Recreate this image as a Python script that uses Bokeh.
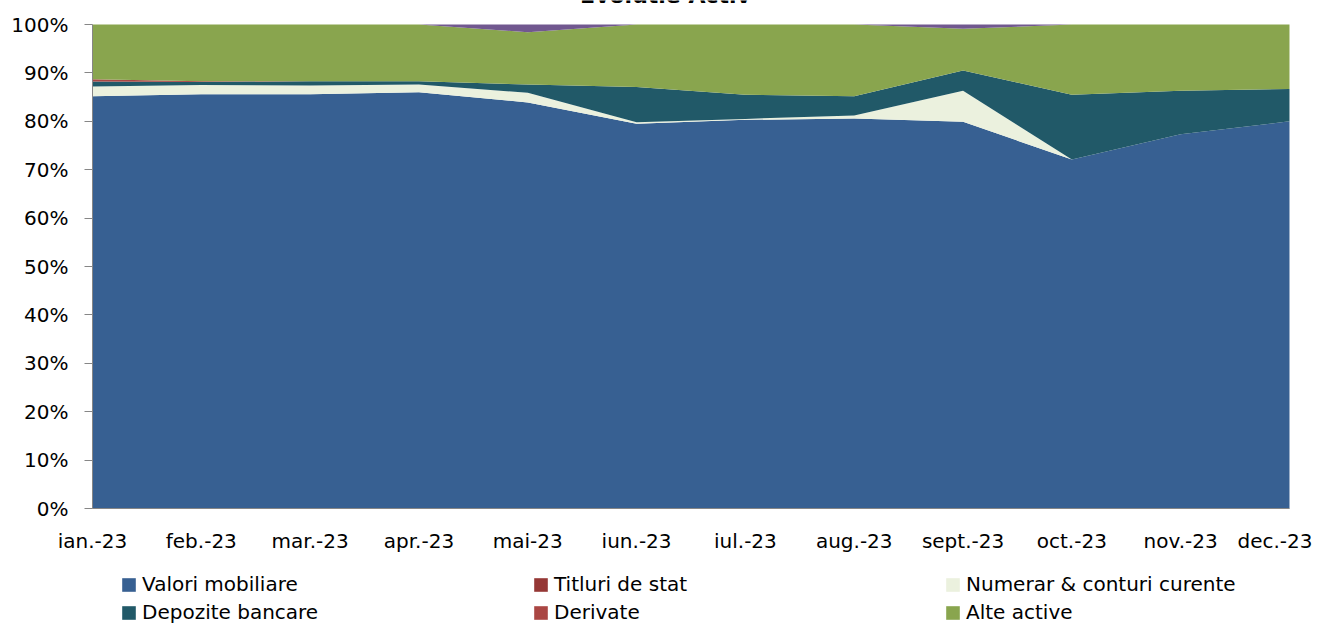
from bokeh.plotting import figure
from bokeh.models import (ColumnDataSource, Range1d, FixedTicker, PrintfTickFormatter,
                          Legend, LegendItem, Label)
from bokeh.embed import file_html
from bokeh.resources import INLINE

# ---------------- data (percent of total assets) ----------------
months = ["ian.-23", "feb.-23", "mar.-23", "apr.-23", "mai-23", "iun.-23",
          "iul.-23", "aug.-23", "sept.-23", "oct.-23", "nov.-23", "dec.-23"]
valori_mobiliare = [85.2, 85.6, 85.6, 86.0, 83.9, 79.5, 80.3, 80.6, 79.9, 72.1, 77.3, 80.0]
titluri_de_stat = [0.0, 0.0, 0.0, 0.0, 0.0, 0.0, 0.0, 0.0, 0.0, 0.0, 0.0, 0.0]
numerar_conturi = [2.0, 1.9, 1.8, 1.6, 2.0, 0.3, 0.2, 0.6, 6.4, 0.0, 0.0, 0.0]
depozite_bancare = [1.0, 0.6, 0.9, 0.7, 1.7, 7.3, 5.0, 4.0, 4.2, 13.4, 9.0, 6.7]
derivate = [0.5, 0.2, 0.0, 0.0, 0.0, 0.0, 0.0, 0.0, 0.0, 0.0, 0.0, 0.0]
alte_active = [11.3, 11.7, 11.7, 11.7, 10.8, 12.9, 14.5, 14.8, 8.6, 14.5, 13.7, 13.3]
altele = [0.0, 0.0, 0.0, 0.0, 1.6, 0.0, 0.0, 0.0, 0.9, 0.0, 0.0, 0.0]

series_keys = ["valori", "titluri", "numerar", "depozite", "derivate", "alte", "altele"]
series_labels = ["Valori mobiliare", "Titluri de stat", "Numerar & conturi curente",
                 "Depozite bancare", "Derivate", "Alte active", None]
series_colors = ["#376092", "#953735", "#EBF1DE", "#215968", "#AA4643", "#89A54E", "#71588F"]
y_ticks = [0, 10, 20, 30, 40, 50, 60, 70, 80, 90, 100]

src = ColumnDataSource(dict(
    x=list(range(len(months))),
    valori=valori_mobiliare, titluri=titluri_de_stat, numerar=numerar_conturi,
    depozite=depozite_bancare, derivate=derivate, alte=alte_active, altele=altele,
))

FONT = "DejaVu Sans"

# The frame spans the whole canvas so that the legend, the end tick labels and
# the (cut-off) title can be drawn inside it; both axes are pinned to 0 and
# limited to the data band.
p = figure(width=1312, height=623, output_backend="svg", toolbar_location=None,
           x_range=Range1d(-0.8454, 11.2114), y_range=Range1d(-23.76, 104.96),
           min_border_left=0, min_border_right=0, min_border_top=0, min_border_bottom=0)
p.outline_line_color = None
p.xgrid.visible = False
p.ygrid.visible = False
p.background_fill_color = "white"

rends = p.varea_stack(stackers=series_keys, x="x", source=src, color=series_colors)

# y axis, pinned at the first month
p.yaxis.fixed_location = 0
p.yaxis.ticker = FixedTicker(ticks=y_ticks)
p.yaxis.bounds = (0, 100)
p.yaxis.formatter = PrintfTickFormatter(format="%d%%")
p.yaxis.axis_line_color = "#868686"
p.yaxis.major_tick_line_color = "#868686"
p.yaxis.major_tick_out = 8
p.yaxis.major_tick_in = 0
p.yaxis.minor_tick_line_color = None
p.yaxis.major_label_standoff = 16
p.yaxis.major_label_text_font = FONT
p.yaxis.major_label_text_font_size = "20px"
p.yaxis.major_label_text_color = "black"

# x axis, pinned at 0 %
p.xaxis.fixed_location = 0
p.xaxis.ticker = FixedTicker(ticks=list(range(len(months))))
p.xaxis.bounds = (0, len(months) - 1)
p.xaxis.major_label_overrides = {i: m for i, m in enumerate(months)}
p.xaxis.axis_line_color = "#868686"
p.xaxis.major_tick_line_color = None
p.xaxis.major_tick_out = 0
p.xaxis.major_tick_in = 0
p.xaxis.minor_tick_line_color = None
p.xaxis.major_label_standoff = 20
p.xaxis.major_label_text_font = FONT
p.xaxis.major_label_text_font_size = "20px"
p.xaxis.major_label_text_color = "black"

# legend (3 columns, two rows, bottom of the chart)
items = [LegendItem(label=lab, renderers=[r]) for lab, r in zip(series_labels, rends) if lab]
legend = Legend(items=items, location=(120, -3), orientation="horizontal", ncols=3,
                glyph_width=17, glyph_height=17, label_standoff=5, label_width=390,
                label_height=28, spacing=0, padding=0, margin=0,
                border_line_color=None, background_fill_alpha=0,
                label_text_font=FONT, label_text_font_size="20px", label_text_color="black")
p.add_layout(legend)

# title (cut off at the top edge as in the reference)
p.add_layout(Label(x=665, y=628, x_units="screen", y_units="screen", text="Evolutie Activ",
                   text_align="center", text_baseline="alphabetic",
                   text_font=FONT, text_font_size="22px", text_font_style="bold",
                   text_color="black"))

open("out.html", "w").write(file_html(p, INLINE))
